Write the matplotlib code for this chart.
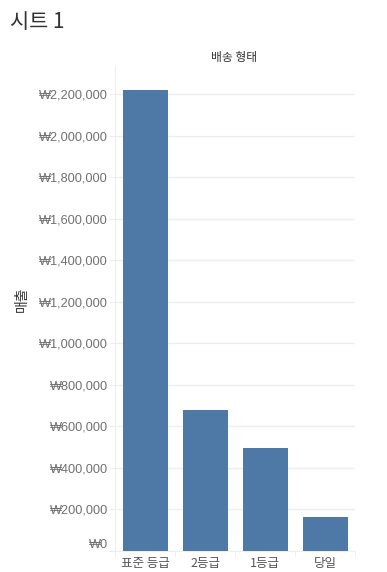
import matplotlib
matplotlib.use("Agg")
import matplotlib.pyplot as plt
import matplotlib.transforms as mtransforms
from matplotlib.ticker import FuncFormatter, MultipleLocator

plt.rcParams['font.family'] = ['Noto Sans CJK KR', 'DejaVu Sans']

categories = ['표준 등급', '2등급', '1등급', '당일']
sales = [2222000, 680000, 497000, 164000]
title = '시트 1'
header = '배송 형태'
ylabel = '매출'

W, H = 387, 572
fig = plt.figure(figsize=(W / 100, H / 100), dpi=100)
ax = fig.add_axes([115 / W, (H - 551) / H, (355 - 115) / W, (551 - 67) / H])

x = list(range(len(categories)))
ax.bar(x, sales, width=0.75, color='#4E79A7', zorder=3)
ax.set_xlim(-0.5, len(categories) - 0.5)
ax.set_ylim(0, 2332500)

ax.yaxis.set_major_locator(MultipleLocator(200000))
ax.yaxis.set_major_formatter(FuncFormatter(lambda v, p: '₩{:,.0f}'.format(v)))
ax.grid(axis='y', color='#efefef', linewidth=1, zorder=0)
ax.set_axisbelow(True)

for s in ['top', 'right']:
    ax.spines[s].set_visible(False)
ax.spines['left'].set_color('#eeeeee')
ax.spines['bottom'].set_color('#eeeeee')

ax.tick_params(axis='y', length=4, color='#eeeeee', labelsize=9.2, labelcolor='#707070', pad=1)
ax.set_xticks(x)
ax.set_xticklabels(categories)
ax.tick_params(axis='x', length=0, labelsize=9, labelcolor='#555555', pad=4)
ax.set_xticks([i - 0.5 for i in range(len(categories) + 1)], minor=True)
ax.tick_params(axis='x', which='minor', length=4, color='#eeeeee')

fig.canvas.draw()
for lab, val in zip(ax.get_yticklabels(), ax.get_yticks()):
    lab.set_family(['Liberation Sans', 'DejaVu Sans'])
    if val == 0:
        lab.set_transform(lab.get_transform() + mtransforms.ScaledTranslation(0, 7 / 100, fig.dpi_scale_trans))

fig.text(10 / W, 1 - 22 / H, title, fontsize=15, color='#333333', va='center', ha='left')
fig.text(234 / W, 1 - 58 / H, header, fontsize=8.5, color='#333333', va='center', ha='center')
fig.text(22 / W, 1 - 299 / H, ylabel, fontsize=10, color='#333333', va='center', ha='center', rotation=90)

fig.savefig('out.png', dpi=100)
